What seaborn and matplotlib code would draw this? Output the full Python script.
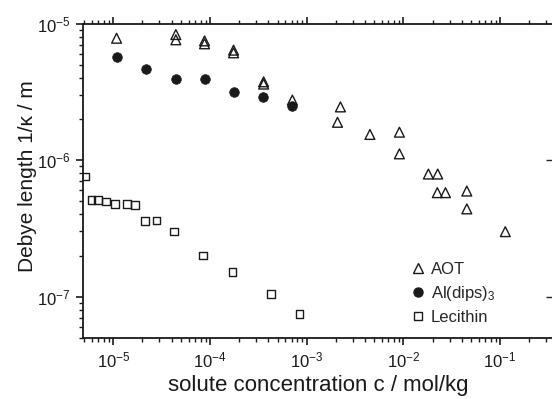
import matplotlib
matplotlib.use("Agg")
import matplotlib.pyplot as plt
import seaborn as sns
import numpy as np
import pandas as pd
from matplotlib.lines import Line2D
from matplotlib.ticker import LogLocator, NullFormatter

# ---- data ----
aot_c = [1.08e-5, 4.43e-5, 4.43e-5, 8.77e-5, 8.77e-5, 1.75e-4, 1.75e-4,
         3.58e-4, 3.58e-4, 7.1e-4, 2.23e-3, 2.08e-3, 4.5e-3, 9.08e-3, 9.08e-3,
         1.81e-2, 2.26e-2, 2.24e-2, 2.72e-2, 4.52e-2, 4.52e-2, 0.113]
aot_d = [7.8e-6, 8.3e-6, 7.6e-6, 7.46e-6, 7.1e-6, 6.38e-6, 6.1e-6,
         3.74e-6, 3.6e-6, 2.75e-6, 2.45e-6, 1.89e-6, 1.54e-6, 1.6e-6, 1.11e-6,
         7.9e-7, 7.9e-7, 5.77e-7, 5.77e-7, 5.93e-7, 4.39e-7, 2.99e-7]

al_c = [1.08e-5, 2.18e-5, 4.43e-5, 8.77e-5, 1.75e-4, 3.56e-4, 7.1e-4]
al_d = [5.7e-6, 4.66e-6, 3.89e-6, 3.89e-6, 3.14e-6, 2.88e-6, 2.48e-6]

lec_c = [5.17e-6, 5.92e-6, 6.93e-6, 8.34e-6, 1.04e-5, 1.39e-5, 1.68e-5,
         2.11e-5, 2.79e-5, 4.23e-5, 8.43e-5, 1.70e-4, 4.24e-4, 8.45e-4]
lec_d = [7.6e-7, 5.09e-7, 5.09e-7, 4.96e-7, 4.79e-7, 4.79e-7, 4.69e-7,
         3.58e-7, 3.6e-7, 2.99e-7, 2.0e-7, 1.51e-7, 1.04e-7, 7.48e-8]

series_names = ["AOT", "Al(dips)$_3$", "Lecithin"]
xlabel = "solute concentration c / mol/kg"
ylabel = "Debye length 1/\u03ba / m"

sns.set_style("ticks")
plt.rcParams["font.family"] = ["Liberation Sans", "DejaVu Sans"]
plt.rcParams["mathtext.fontset"] = "custom"
plt.rcParams["mathtext.rm"] = "Liberation Sans"
plt.rcParams["mathtext.it"] = "Liberation Sans:italic"
plt.rcParams["mathtext.default"] = "regular"

fig = plt.figure(figsize=(5.52, 3.99), dpi=100)
ax = fig.add_axes([0.1498, 0.1536, 0.8529, 0.7875])

df_aot = pd.DataFrame({"c": aot_c, "d": aot_d})
df_al = pd.DataFrame({"c": al_c, "d": al_d})
df_lec = pd.DataFrame({"c": lec_c, "d": lec_d})

sns.scatterplot(data=df_aot, x="c", y="d", ax=ax, marker="^", s=50,
                facecolor="none", edgecolor="#1a1a1a", linewidth=1.0, zorder=3)
sns.scatterplot(data=df_al, x="c", y="d", ax=ax, marker="o", s=48,
                color="#1a1a1a", edgecolor="#1a1a1a", linewidth=0.5, zorder=3)
sns.scatterplot(data=df_lec, x="c", y="d", ax=ax, marker="s", s=30,
                facecolor="none", edgecolor="#1a1a1a", linewidth=1.0, zorder=3)

ax.set_xscale("log")
ax.set_yscale("log")
ax.set_xlim(4.82e-6, 0.356)
ax.set_ylim(5.0e-8, 1e-5)

ax.xaxis.set_major_locator(LogLocator(base=10, numticks=20))
ax.xaxis.set_minor_locator(LogLocator(base=10, subs=np.arange(2, 10), numticks=100))
ax.xaxis.set_minor_formatter(NullFormatter())
ax.yaxis.set_major_locator(LogLocator(base=10, numticks=20))
ax.yaxis.set_minor_locator(LogLocator(base=10, subs=np.arange(2, 10), numticks=100))
ax.yaxis.set_minor_formatter(NullFormatter())

for s in ax.spines.values():
    s.set_linewidth(1.3)
    s.set_color("#1a1a1a")

ax.tick_params(axis="both", which="major", direction="out", length=5, width=1.2,
               labelsize=12, colors="#1a1a1a", top=True, right=False)
ax.tick_params(axis="both", which="minor", direction="out", length=3, width=1.0,
               top=True, right=False, colors="#1a1a1a")
ax.tick_params(axis="y", which="major", pad=4)
ax.tick_params(axis="x", which="major", pad=4)

# right side major ticks pointing inward (spine just outside the figure)
ax2 = ax.secondary_yaxis("right")
ax2.tick_params(which="major", direction="in", length=5, width=1.0, labelright=False)
ax2.tick_params(which="minor", length=0)
ax2.set_yticks([1e-7, 1e-6])

ax.set_xlabel(xlabel, fontsize=16, color="#1a1a1a")
ax.set_ylabel(ylabel, fontsize=15, color="#1a1a1a")
ax.yaxis.set_label_coords(-0.097, 0.515)
ax.xaxis.set_label_coords(0.5, -0.118)

handles = [
    Line2D([], [], marker="^", linestyle="none", markerfacecolor="none",
           markeredgecolor="#1a1a1a", markersize=7, markeredgewidth=1.0),
    Line2D([], [], marker="o", linestyle="none", markerfacecolor="#1a1a1a",
           markeredgecolor="#1a1a1a", markersize=6.5),
    Line2D([], [], marker="s", linestyle="none", markerfacecolor="none",
           markeredgecolor="#1a1a1a", markersize=6, markeredgewidth=1.0),
]
leg = ax.legend(handles, series_names, frameon=False, fontsize=12,
                loc="lower left", bbox_to_anchor=(0.683, 0.02),
                handlelength=0.8, handletextpad=0.4, labelspacing=0.42,
                borderaxespad=0)

fig.savefig("out.png", dpi=100)
